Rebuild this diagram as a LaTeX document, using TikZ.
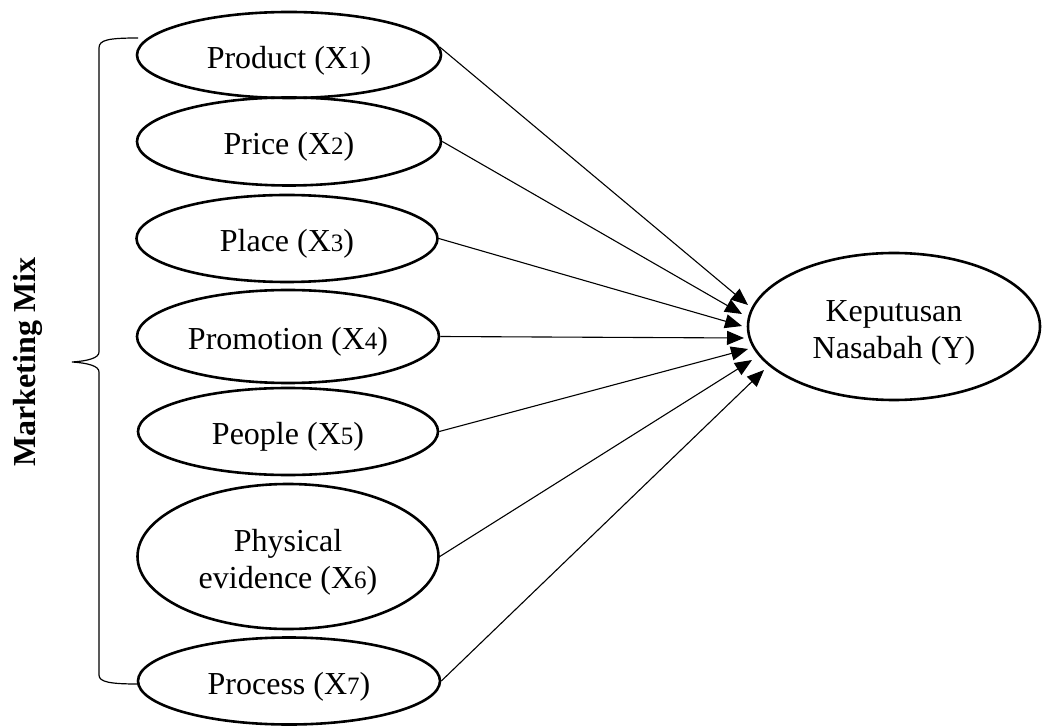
\documentclass[tikz,border=0pt]{standalone}
\usepackage{fontspec}
\setmainfont{Liberation Serif}
\usetikzlibrary{shapes.geometric,arrows.meta}
\newcommand{\sn}[1]{{\fontsize{12.5pt}{12.5pt}\selectfont #1}}
\newcommand{\lbl}[1]{\raisebox{-3pt}[\height][\depth]{\begin{tabular}{@{}c@{}}#1\end{tabular}}}
\begin{document}
\begin{tikzpicture}[x=0.5pt,y=-0.5pt,
  var/.style={draw,ellipse,line width=1.3pt,inner sep=0pt,font=\fontsize{16pt}{18.5pt}\selectfont},
  conn/.style={line width=0.55pt,-{Triangle[length=8.5pt,width=7pt]}},
  brace/.style={line width=0.6pt}]
\path (0,0) rectangle (1042,725);
\node[var,minimum width=152pt,minimum height=43pt] (p1) at (289,55) {\lbl{Product (X\sn{1})}};
\node[var,minimum width=152pt,minimum height=44pt] (p2) at (289,141.5) {\lbl{Price (X\sn{2})}};
\node[var,minimum width=150.5pt,minimum height=43.5pt] (p3) at (287,238.5) {\lbl{Place (X\sn{3})}};
\node[var,minimum width=151pt,minimum height=46.5pt] (p4) at (288,336.5) {\lbl{Promotion (X\sn{4})}};
\node[var,minimum width=150pt,minimum height=43.5pt] (p5) at (288,431.5) {\lbl{People (X\sn{5})}};
\node[var,minimum width=150.5pt,minimum height=72.5pt] (p6) at (288,556.5) {\lbl{Physical\\evidence (X\sn{6})}};
\node[var,minimum width=151pt,minimum height=43.5pt] (p7) at (289,681) {\lbl{Process (X\sn{7})}};
\node[var,minimum width=146pt,minimum height=73.5pt] (y) at (894,326.5) {\lbl{Keputusan\\Nasabah (Y)}};
\coordinate (t1) at (748,305);
\coordinate (t2) at (742,314);
\coordinate (t3) at (742,326);
\coordinate (t4) at (744,338);
\coordinate (t5) at (748,349);
\coordinate (t6) at (752,360);
\coordinate (t7) at (764,370);
\draw[conn] (p1.3) -- (t1);
\draw[conn] (p2.east) -- (t2);
\draw[conn] (p3.east) -- (t3);
\draw[conn] (p4.east) -- (t4);
\draw[conn] (p5.east) -- (t5);
\draw[conn] (p6.east) -- (t6);
\draw[conn] (p7.east) -- (t7);
\coordinate (bt) at (138,38);
\coordinate (bb) at (138,684);
\coordinate (bc) at (72,362);
\draw[brace] (bt) .. controls (108,38) and (99,40) .. (99,48) -- (99,352)
  .. controls (99,358) and (88,361) .. (bc)
  .. controls (88,363) and (99,366) .. (99,372) -- (99,675)
  .. controls (99,682) and (110,684) .. (bb);
\node[rotate=90,font=\fontsize{16pt}{18pt}\selectfont\bfseries] (mm) at (28,362) {Marketing Mix};
\end{tikzpicture}
\end{document}
